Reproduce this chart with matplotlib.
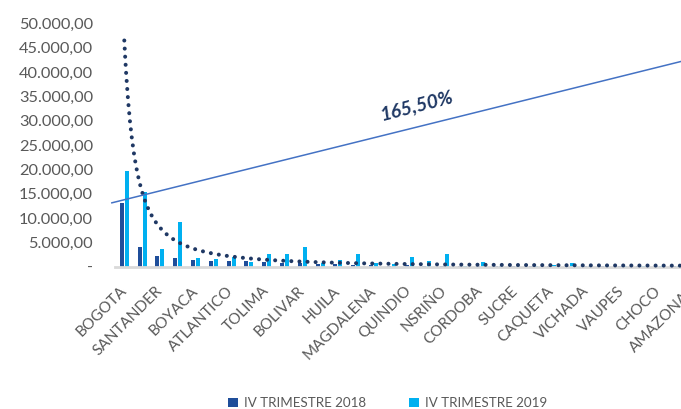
import matplotlib.pyplot as plt
import numpy as np
from matplotlib.ticker import FuncFormatter

# departments (only every other name is shown on the axis, as in the source chart)
departments = [
    "BOGOTA", "ANTIOQUIA", "SANTANDER", "VALLE", "BOYACA", "CUNDINAMARCA",
    "ATLANTICO", "RISARALDA", "TOLIMA", "CALDAS", "BOLIVAR", "META",
    "HUILA", "NORTE DE SANTANDER", "MAGDALENA", "CESAR", "QUINDIO", "CAUCA",
    "NSRIÑO", "LA GUAJIRA", "CORDOBA", "CASANARE", "SUCRE", "ARAUCA",
    "CAQUETA", "PUTUMAYO", "VICHADA", "GUAVIARE", "VAUPES", "SAN ANDRES",
    "CHOCO", "GUAINIA", "AMAZONAS",
]
q4_2018 = [
    13150, 3950, 2100, 1800, 1400, 1200, 1130, 1130, 860, 790, 720, 520,
    500, 300, 250, 200, 250, 200, 150, 120, 150, 90, 80, 60,
    70, 60, 40, 50, 30, 30, 40, 20, 20,
]
q4_2019 = [
    19700, 15350, 3600, 9100, 1700, 1600, 1950, 930, 2500, 2640, 4000, 790,
    1340, 2600, 720, 500, 1890, 1050, 2575, 160, 950, 150, 100, 80,
    300, 700, 80, 300, 60, 50, 60, 40, 40,
]
series_names = ["IV TRIMESTRE 2018", "IV TRIMESTRE 2019"]

# power trendline as shown in the chart: y = a * x^b  (x = 1..n)
trend_a = 46500
trend_b = -1.6

# hand drawn growth line and its label
growth_start = (-0.7, 13100)
growth_end = (32.5, 43300)
growth_label = "165,50%"
growth_label_pos = (16.4, 33200)

DARK = "#1F4E9A"
LIGHT = "#00B0F0"
NAVY = "#1F3864"
LINE = "#4472C4"
GREY_TXT = "#595959"

plt.rcParams["font.family"] = ["Lato", "DejaVu Sans"]

fig = plt.figure(figsize=(6.81, 4.09), dpi=100)
# plot area runs past the right edge, like the cropped source
ax = fig.add_axes([115.4 / 681, 142.5 / 409, 587.4 / 681, 243 / 409])

x = np.arange(len(departments))
w = 0.235
ax.bar(x - 0.14, q4_2018, width=w, color=DARK, label=series_names[0], zorder=2)
ax.bar(x + 0.14, q4_2019, width=w, color=LIGHT, label=series_names[1], zorder=2)

tx = np.linspace(0, len(departments) - 1, 600)
ty = trend_a * (tx + 1) ** trend_b
ax.plot(tx, ty, color=NAVY, lw=2.9, linestyle=(0, (0.01, 2.0)),
        dash_capstyle="round", zorder=3, clip_on=False)

ax.plot([growth_start[0], growth_end[0]], [growth_start[1], growth_end[1]],
        color=LINE, lw=1.1, zorder=4, clip_on=False)
ax.text(growth_label_pos[0], growth_label_pos[1], growth_label, color=NAVY,
        fontsize=14, fontweight="bold", fontstyle="italic", rotation=14.5,
        ha="center", va="center")

ax.set_xlim(-0.5, len(departments) - 0.5)
ax.set_ylim(0, 50000)
ax.set_yticks(np.arange(0, 50001, 5000))


def fmt(v, pos):
    if v == 0:
        return "-"
    return f"{v:,.2f}".replace(",", "X").replace(".", ",").replace("X", ".")


ax.yaxis.set_major_formatter(FuncFormatter(fmt))
ax.set_xticks(x[::2])
ax.set_xticklabels(departments[::2], rotation=45, ha="right", va="center",
                   rotation_mode="anchor")
ax.tick_params(axis="both", length=0, labelcolor=GREY_TXT)
ax.tick_params(axis="y", pad=16, labelsize=11.8)
ax.tick_params(axis="x", pad=16, labelsize=11)

for s in ["top", "right", "left"]:
    ax.spines[s].set_visible(False)
ax.spines["bottom"].set_color("#D9D9D9")
ax.spines["bottom"].set_linewidth(2)

fig.legend(loc="center", bbox_to_anchor=(388 / 681, 1 - 403 / 409), ncol=2,
           frameon=False, fontsize=9.6, labelcolor=GREY_TXT, handlelength=0.7,
           handleheight=0.7, handletextpad=0.5, columnspacing=3.2)

fig.savefig("out.png", dpi=100)
